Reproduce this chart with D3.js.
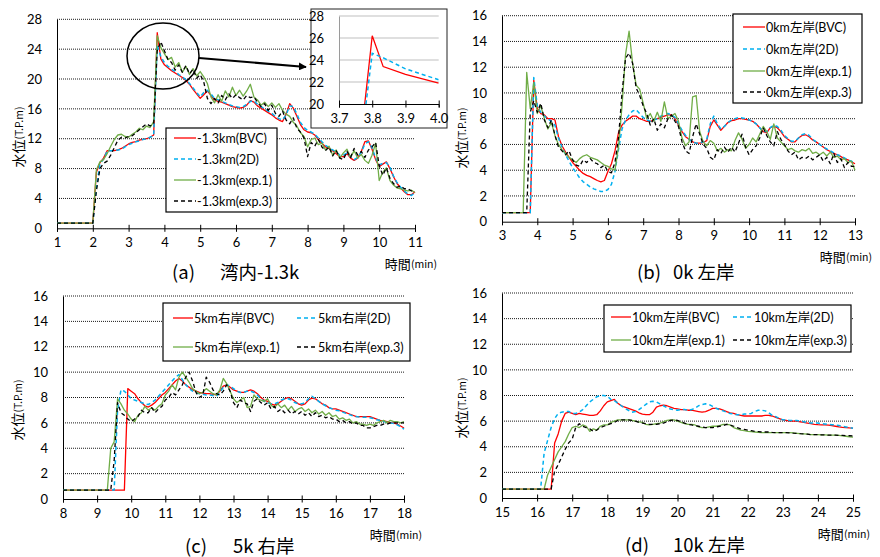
<!DOCTYPE html>
<html lang="ja">
<head>
<meta charset="UTF-8">
<script src="https://cdn.jsdelivr.net/npm/d3@7"></script>
<title>水位比較</title>
<style>
  body { margin: 0; background: #fff; }
  svg text { font-family: Lato, "Noto Sans CJK JP", sans-serif; fill: #000; }
  .jp { font-family: "Noto Sans CJK JP", sans-serif; }
</style>
</head>
<body>
<svg id="chart" width="880" height="557"></svg>
<script>
// ---- data: water level (T.P.m), sampled every 0.1 min ----
const timesA = d3.range(101).map(i => +(1 + i * 0.1).toFixed(1));
const timesB = d3.range(101).map(i => +(3 + i * 0.1).toFixed(1));
const timesC = d3.range(101).map(i => +(8 + i * 0.1).toFixed(1));
const timesD = d3.range(101).map(i => +(15 + i * 0.1).toFixed(1));

const namesA = ["-1.3km(BVC)", "-1.3km(2D)", "-1.3km(exp.1)", "-1.3km(exp.3)"];
const namesB = ["0km左岸(BVC)", "0km左岸(2D)", "0km左岸(exp.1)", "0km左岸(exp.3)"];
const namesC = ["5km右岸(BVC)", "5km右岸(2D)", "5km右岸(exp.1)", "5km右岸(exp.3)"];
const namesD = ["10km左岸(BVC)", "10km左岸(2D)", "10km左岸(exp.1)", "10km左岸(exp.3)"];

// (a) 湾内-1.3k
const bvcA = [0.7,0.7,0.7,0.7,0.7,0.7,0.7,0.7,0.7,0.7,0.7,
  7.5,8.8,9.4,10.4,10.4,10.4,10.5,10.7,11.0,11.3,11.5,11.6,11.8,11.9,12.0,12.2,12.5,
  26.2,22.7,21.9,21.5,21.1,20.8,20.5,20.2,19.8,19.3,18.6,18.0,17.4,17.9,18.4,17.8,17.2,17.0,
  16.9,16.7,16.5,16.3,16.2,16.1,16.2,16.5,17.1,16.9,16.4,16.1,15.8,15.5,15.2,14.8,14.5,14.3,
  15.3,16.7,16.1,15.0,13.9,13.2,12.9,12.8,12.5,11.9,11.4,10.9,10.7,10.4,10.0,9.6,9.6,10.0,
  9.4,9.1,9.4,10.3,11.6,11.7,10.6,9.2,8.3,8.6,8.9,8.0,6.9,6.0,5.4,4.9,4.5,4.5,4.9];
const d2A = [0.7,0.7,0.7,0.7,0.7,0.7,0.7,0.7,0.7,0.7,0.7,
  5.5,8.6,9.3,10.3,10.4,10.4,10.5,10.6,10.9,11.2,11.4,11.6,11.7,11.9,12.0,12.2,12.4,
  24.6,23.0,22.2,21.7,21.3,21.0,20.6,20.3,19.9,19.4,18.8,18.2,17.6,18.2,18.5,18.0,17.4,17.2,
  17.0,16.8,16.6,16.4,16.3,16.2,16.3,16.6,17.0,17.1,16.6,16.3,16.0,15.7,15.4,15.0,14.7,14.5,
  15.2,16.4,16.3,15.3,14.2,13.5,13.1,12.9,12.6,12.1,11.6,11.1,10.8,10.5,10.2,9.8,9.8,10.1,
  9.6,9.2,9.5,10.2,11.3,11.6,10.8,9.4,8.5,8.7,8.8,8.2,7.0,6.1,5.5,5.0,4.6,4.4,4.8];
const exp1A = [0.7,0.7,0.7,0.7,0.7,0.7,0.7,0.7,0.7,0.7,0.7,
  7.8,8.9,9.2,10.0,11.0,11.9,12.5,12.6,12.3,12.2,12.6,12.9,13.4,13.2,13.7,13.5,14.3,
  25.8,24.2,23.4,22.6,22.9,21.6,22.2,20.9,21.7,20.6,21.4,20.4,21.0,20.3,19.4,17.6,16.8,17.9,
  17.0,18.4,17.6,18.9,17.8,18.5,17.7,18.4,19.3,17.6,17.2,16.5,16.9,16.3,16.8,16.2,16.7,15.8,
  15.3,15.0,14.2,13.7,12.8,12.3,10.9,11.9,12.1,11.2,11.4,10.5,11.0,9.8,10.5,9.4,10.1,10.6,
  9.5,10.4,9.4,9.9,9.1,8.7,9.8,11.4,6.4,7.5,8.1,6.4,5.8,5.4,5.3,5.1,5.0,5.1,4.8];
const exp3A = [0.7,0.7,0.7,0.7,0.7,0.7,0.7,0.7,0.7,0.7,0.7,
  5.0,8.0,8.7,9.0,9.8,10.8,11.8,12.2,12.1,12.3,12.4,12.8,13.2,13.6,14.0,13.7,14.0,
  23.8,25.0,23.8,22.6,22.2,21.2,21.9,20.9,21.8,20.7,21.3,20.1,20.6,19.6,17.4,16.7,17.4,16.8,
  17.8,17.2,18.0,17.4,17.9,17.5,17.2,17.8,17.5,17.6,16.9,16.3,16.7,15.8,16.5,15.4,15.0,15.7,
  14.5,14.0,14.8,13.4,12.9,12.1,9.6,11.5,11.0,11.9,10.9,10.4,10.9,9.7,10.4,9.4,9.2,10.3,
  9.5,10.7,9.8,10.3,9.5,10.5,10.9,11.5,8.4,7.1,8.1,6.7,6.0,5.5,5.7,5.3,5.3,5.0,4.9];

// inset (3.7–4.0 min) of (a)
const insetTimes = [3.75, 3.8, 3.833, 3.9, 4.0];
const insetBvc = [12.5, 26.2, 23.4, 22.7, 21.9];
const insetD2 = [12.4, 24.6, 24.2, 23.2, 22.2];

// (b) 0k 左岸
const bvcB = [0.7,0.7,0.7,0.7,0.7,0.7,0.7,0.7,0.7,
  11.0,8.8,8.4,8.3,8.0,8.0,7.9,6.6,5.9,5.4,5.0,4.6,4.3,4.0,3.75,3.6,3.5,3.35,3.2,3.1,3.2,
  3.9,4.5,5.5,6.9,7.5,7.8,8.0,8.2,8.2,8.0,7.9,7.8,7.8,7.9,8.0,8.1,8.2,8.3,8.3,8.0,
  7.5,7.0,6.6,6.4,6.2,6.1,6.1,6.15,6.3,7.4,7.9,7.5,7.1,7.4,7.7,7.85,7.9,8.0,8.0,7.95,
  7.9,7.8,7.6,7.3,7.0,6.9,7.3,7.4,7.3,7.0,6.6,6.4,6.2,6.2,6.5,6.7,6.75,6.6,6.35,6.2,
  6.0,5.8,5.6,5.45,5.3,5.2,5.05,4.9,4.8,4.65,4.5];
const d2B = [0.7,0.7,0.7,0.7,0.7,0.7,0.7,0.7,0.7,
  11.2,9.0,8.5,8.2,8.0,7.8,7.5,6.5,5.8,5.2,4.7,4.2,3.8,3.4,3.1,2.9,2.7,2.55,2.45,2.35,2.35,
  2.5,2.9,3.9,5.6,7.2,7.9,8.3,8.6,8.7,8.4,8.1,7.9,7.8,7.9,8.0,8.2,8.3,8.4,8.3,8.1,
  7.6,7.1,6.7,6.4,6.2,6.1,6.1,6.2,6.4,7.6,8.2,7.6,7.2,7.4,7.7,7.9,8.0,8.1,8.05,8.0,
  7.9,7.8,7.6,7.3,7.0,7.0,7.3,7.5,7.4,7.1,6.7,6.45,6.25,6.25,6.5,6.75,6.85,6.7,6.4,6.2,
  6.0,5.8,5.65,5.5,5.35,5.2,5.1,4.95,4.8,4.7,4.5];
const exp1B = [0.7,0.7,0.7,0.7,0.7,0.7,0.7,
  11.6,8.8,10.8,8.4,9.0,8.0,7.2,7.7,6.7,6.0,5.6,5.3,5.0,4.8,4.6,4.9,5.1,5.2,5.0,4.9,4.8,
  4.6,4.4,4.3,4.1,4.0,5.8,9.0,13.0,14.8,12.3,10.6,10.3,9.2,8.0,8.4,7.8,8.5,7.8,9.3,8.0,
  8.2,8.4,7.8,6.5,5.9,6.2,9.7,9.8,7.0,6.2,5.9,6.3,6.1,5.5,5.7,5.4,5.6,5.5,6.3,6.9,
  6.4,5.7,6.0,6.5,6.2,6.8,7.4,7.0,6.4,7.6,6.5,6.2,5.9,5.6,5.7,5.5,5.4,5.6,5.5,5.7,
  5.3,5.4,5.2,5.4,5.1,5.4,5.0,5.1,4.8,4.9,4.6,4.7,4.0];
const exp3B = [0.7,0.7,0.7,0.7,0.7,0.7,0.7,0.7,
  8.5,9.4,8.5,9.2,7.9,7.3,7.9,6.7,5.8,5.5,5.2,5.5,4.8,4.4,4.3,4.8,4.6,4.9,4.6,4.5,
  4.2,4.4,3.9,3.8,4.6,6.5,10.0,12.7,13.1,12.3,10.4,9.8,9.0,8.4,7.5,8.0,7.1,7.6,7.3,8.0,
  8.3,7.8,7.4,6.2,5.5,5.3,6.6,7.6,6.8,6.0,5.7,5.0,4.8,5.6,5.3,5.8,5.4,5.8,5.4,6.1,
  6.8,5.8,5.2,5.6,5.9,6.5,7.3,6.7,6.2,5.9,7.0,6.4,6.0,5.5,5.2,5.4,4.8,5.0,4.9,5.1,
  4.8,5.0,5.2,4.7,5.0,4.5,5.3,4.6,4.9,4.2,4.6,4.3,4.3];

// (c) 5k 右岸
const bvcC = [0.7,0.7,0.7,0.7,0.7,0.7,0.7,0.7,0.7,0.7,0.7,0.7,0.7,0.7,0.7,0.7,0.7,0.7,0.7,
  8.7,8.5,8.3,7.9,7.6,7.35,7.25,7.4,7.6,7.9,8.2,8.4,8.7,9.0,9.3,9.5,9.3,9.0,8.8,8.6,8.5,
  8.4,8.35,8.3,8.3,8.25,8.2,8.5,8.9,9.0,8.8,8.6,8.5,8.4,8.4,8.5,8.6,8.5,8.3,8.0,7.8,
  7.7,7.5,7.4,7.5,7.7,7.9,8.0,7.9,7.7,7.5,7.4,7.5,7.8,7.95,7.9,7.7,7.5,7.4,7.2,7.1,
  7.1,7.0,6.9,6.8,6.7,6.6,6.5,6.5,6.5,6.5,6.5,6.4,6.3,6.2,6.15,6.1,6.0,6.0,5.9,5.75,5.6];
const d2C = [0.7,0.7,0.7,0.7,0.7,0.7,0.7,0.7,0.7,0.7,0.7,0.7,0.7,0.7,0.7,0.7,
  7.0,8.6,8.5,8.2,7.9,7.8,7.7,7.6,7.5,7.45,7.6,7.8,8.1,8.4,8.7,9.0,9.3,9.6,9.8,9.4,
  9.0,8.7,8.5,8.4,8.3,8.25,8.2,8.2,8.15,8.1,8.4,8.8,9.0,8.9,8.7,8.5,8.4,8.4,8.5,8.5,
  8.4,8.2,7.9,7.7,7.6,7.5,7.5,7.6,7.8,7.9,7.9,7.8,7.6,7.5,7.5,7.6,7.9,8.1,7.9,7.7,
  7.5,7.35,7.2,7.1,7.0,6.95,6.85,6.75,6.65,6.55,6.5,6.45,6.45,6.45,6.4,6.35,6.25,6.2,6.1,6.05,
  6.0,5.95,5.85,5.7,5.5];
const exp1C = [0.7,0.7,0.7,0.7,0.7,0.7,0.7,0.7,0.7,0.7,0.7,0.7,0.7,0.7,
  4.0,4.5,7.9,7.5,7.0,6.7,6.3,6.1,6.6,6.8,7.3,7.0,7.2,7.0,7.3,7.5,8.2,8.5,9.0,8.6,
  9.6,10.0,9.6,9.2,8.7,8.5,8.3,8.4,8.7,8.5,8.3,8.2,8.6,9.5,9.1,8.5,7.9,7.6,7.8,8.0,
  7.2,7.3,8.2,7.9,7.8,7.7,7.9,7.4,7.2,7.5,7.2,7.4,7.0,7.3,6.9,7.1,7.2,6.9,7.1,6.8,
  7.0,6.7,6.9,6.6,6.8,6.5,6.6,6.3,6.4,6.2,6.3,6.0,6.1,5.9,5.9,5.8,5.9,5.8,6.0,6.1,
  6.2,6.0,6.2,6.1,6.1,6.0,6.1];
const exp3C = [0.7,0.7,0.7,0.7,0.7,0.7,0.7,0.7,0.7,0.7,0.7,0.7,0.7,0.7,0.7,
  3.0,7.6,6.8,6.6,6.3,6.1,6.3,6.5,7.0,6.8,6.8,7.2,6.8,7.1,7.3,7.8,8.0,8.4,8.2,8.6,
  9.0,9.6,10.0,9.3,8.4,8.0,8.2,9.6,9.2,8.6,8.3,8.2,8.5,9.0,8.5,7.6,7.2,7.8,7.6,7.5,
  6.9,7.7,7.9,7.6,7.4,7.6,7.1,7.3,6.9,7.1,6.8,7.0,6.7,6.9,6.7,6.9,6.6,6.8,6.5,6.8,
  6.5,6.6,6.4,6.5,6.3,6.3,6.1,6.2,6.0,6.1,5.9,6.0,5.8,5.8,5.6,5.6,5.7,5.8,5.8,5.9,
  5.9,6.0,6.0,6.0,6.0,6.0];

// (d) 10k 左岸
const bvcD = [0.7,0.7,0.7,0.7,0.7,0.7,0.7,0.7,0.7,0.7,0.7,0.7,0.7,0.7,0.7,
  4.3,5.0,6.0,6.6,6.7,6.6,6.5,6.6,6.55,6.5,6.45,6.45,6.5,6.8,7.2,7.5,7.6,7.7,7.4,7.2,
  7.1,7.0,6.9,6.8,6.65,6.55,6.5,6.5,6.7,7.1,7.2,7.25,7.2,7.1,7.0,6.95,6.9,6.9,6.85,6.85,
  6.8,6.75,6.7,6.75,6.85,7.0,7.0,6.95,6.85,6.75,6.65,6.6,6.5,6.45,6.4,6.4,6.4,6.4,6.4,6.4,
  6.45,6.45,6.4,6.3,6.2,6.1,6.05,6.0,6.0,6.0,5.95,5.9,5.85,5.8,5.75,5.72,5.7,5.7,5.68,5.65,
  5.6,5.55,5.52,5.5,5.47,5.45];
const d2D = [0.7,0.7,0.7,0.7,0.7,0.7,0.7,0.7,0.7,0.7,0.7,0.7,
  3.5,4.5,5.5,6.2,6.6,6.7,6.75,6.75,6.6,6.6,6.7,6.9,7.2,7.5,7.7,7.9,8.0,8.0,7.95,7.7,
  7.6,7.4,7.2,7.0,6.85,6.7,6.75,6.9,7.1,7.3,7.5,7.55,7.5,7.35,7.2,7.05,6.95,6.9,6.85,6.9,
  6.9,6.85,6.9,7.0,7.2,7.3,7.35,7.3,7.15,7.0,6.9,6.8,6.7,6.6,6.55,6.5,6.5,6.55,6.55,6.6,
  6.75,6.85,6.85,6.8,6.65,6.45,6.35,6.2,6.1,6.08,6.05,6.05,6.05,6.0,5.95,5.9,5.85,5.85,5.85,5.8,
  5.78,5.75,5.72,5.7,5.65,5.6,5.55,5.5,5.45];
const exp1D = [0.7,0.7,0.7,0.7,0.7,0.7,0.7,0.7,0.7,0.7,0.7,0.7,0.7,
  1.8,2.4,3.0,3.6,4.0,4.4,5.0,5.5,5.6,5.5,5.7,5.6,5.2,5.4,5.3,5.6,5.7,5.7,5.9,6.0,
  6.1,6.1,6.1,6.1,6.05,6.0,5.95,5.9,5.75,5.7,5.75,5.8,5.85,5.95,6.05,6.1,6.1,6.0,5.9,5.8,
  5.75,5.75,5.7,5.55,5.5,5.5,5.55,5.6,5.6,5.65,5.75,5.75,5.7,5.5,5.4,5.3,5.25,5.2,5.18,5.15,
  5.12,5.1,5.1,5.1,5.1,5.1,5.1,5.1,5.1,5.1,5.08,5.05,5.02,5.0,4.98,4.95,4.95,4.95,4.93,4.92,
  4.9,4.9,4.9,4.88,4.85,4.82,4.78,4.75];
const exp3D = [0.7,0.7,0.7,0.7,0.7,0.7,0.7,0.7,0.7,0.7,0.7,0.7,0.7,0.7,0.7,
  2.1,2.6,3.2,3.8,4.3,4.6,5.5,5.8,5.6,5.5,5.4,5.2,5.3,5.5,5.6,5.7,5.8,5.9,6.05,6.1,
  6.1,6.1,6.05,6.0,5.9,5.85,5.8,5.75,5.75,5.75,5.8,5.85,5.95,6.05,6.1,6.05,5.95,5.85,5.75,5.7,
  5.65,5.6,5.55,5.5,5.5,5.5,5.55,5.6,5.65,5.75,5.7,5.6,5.5,5.4,5.35,5.3,5.25,5.2,5.18,5.15,
  5.15,5.15,5.12,5.1,5.1,5.1,5.1,5.08,5.06,5.05,5.02,5.0,4.98,4.95,4.95,4.95,4.93,4.92,4.9,4.9,
  4.9,4.89,4.88,4.87,4.86,4.85];

// ---- styles ----
const lineStyles = [
  { color: "#ff0000", dash: null, width: 1.3 },
  { color: "#00b0f0", dash: "4,3", width: 1.5 },
  { color: "#70ad47", dash: null, width: 1.3 },
  { color: "#000000", dash: "4,3", width: 1.3 }
];

const panels = [
  { times: timesA, series: [bvcA, d2A, exp1A, exp3A], names: namesA,
    left: 57, right: 415, top: 19.3, bottom: 228.3, xDom: [1, 11], yMax: 28, yStep: 4,
    ylab: [18, 137], xlab: [437, 263], title: ["(a)", "湾内-1.3k"], titleX: [172, 220], titleY: 271,
    legend: { x: 166, y: 128, w: 111, h: 84, rows: [138, 159, 180, 201], cols: [174], sw: 22, ncol: 1 } },
  { times: timesB, series: [bvcB, d2B, exp1B, exp3B], names: namesB,
    left: 502, right: 855, top: 15.7, bottom: 221.7, xDom: [3, 13], yMax: 16, yStep: 2,
    ylab: [461, 138], xlab: [872, 256], title: ["(b)", "0k 左岸"], titleX: [637, 673], titleY: 271,
    legend: { x: 733, y: 14, w: 129, h: 89, rows: [27, 49, 71, 92], cols: [743], sw: 22, ncol: 1 } },
  { times: timesC, series: [bvcC, d2C, exp1C, exp3C], names: namesC,
    left: 63, right: 404, top: 296, bottom: 499, xDom: [8, 18], yMax: 16, yStep: 2,
    ylab: [17, 410], xlab: [422, 534], title: ["(c)", "5k 右岸"], titleX: [185, 233], titleY: 545,
    legend: { x: 163, y: 303, w: 247, h: 58, rows: [318, 347], cols: [173, 297], sw: 20, ncol: 2 } },
  { times: timesD, series: [bvcD, d2D, exp1D, exp3D], names: namesD,
    left: 502, right: 853, top: 293, bottom: 498, xDom: [15, 25], yMax: 16, yStep: 2,
    ylab: [461, 408], xlab: [870, 533], title: ["(d)", "10k 左岸"], titleX: [625, 673], titleY: 544,
    legend: { x: 604, y: 305, w: 247, h: 47, rows: [317, 340], cols: [611, 733], sw: 20, ncol: 2 } }
];

const svg = d3.select("#chart");

function drawLegendLine(g, x1, x2, y, st) {
  g.append("line").attr("x1", x1).attr("x2", x2).attr("y1", y).attr("y2", y)
    .attr("stroke", st.color).attr("stroke-width", st.width)
    .attr("stroke-dasharray", st.dash);
}

panels.forEach((p, pi) => {
  const g = svg.append("g");
  const x = d3.scaleLinear().domain(p.xDom).range([p.left, p.right]);
  const y = d3.scaleLinear().domain([0, p.yMax]).range([p.bottom, p.top]);
  const yTicks = d3.range(0, p.yMax + 0.001, p.yStep);

  // dotted gridlines
  g.append("g").selectAll("line").data(yTicks.slice(1)).join("line")
    .attr("x1", p.left).attr("x2", p.right)
    .attr("y1", d => y(d)).attr("y2", d => y(d))
    .attr("stroke", "#1a1a1a").attr("stroke-width", 1).attr("stroke-dasharray", "1,1");

  // y axis
  const ya = g.append("g").attr("transform", `translate(${p.left},0)`)
    .call(d3.axisLeft(y).tickValues(yTicks).tickSize(0).tickPadding(15));
  ya.select(".domain").attr("stroke", "#000");
  ya.selectAll("text").attr("font-size", 13).attr("fill", "#000");

  // x axis with crossing ticks
  const xa = g.append("g").attr("transform", `translate(0,${p.bottom})`)
    .call(d3.axisBottom(x).ticks(10).tickFormat(d3.format("d")).tickSize(3.5).tickPadding(6));
  xa.select(".domain").attr("stroke", "#000");
  xa.selectAll(".tick line").attr("y1", -3.5).attr("y2", 3.5).attr("stroke", "#000");
  xa.selectAll("text").attr("font-size", 13).attr("fill", "#000");

  // series
  const line = d3.line().x(d => x(d[0])).y(d => y(d[1]));
  p.series.forEach((vals, si) => {
    const st = lineStyles[si];
    const pts = vals.map((v, i) => [p.times[i], v]);
    g.append("path").datum(pts)
      .attr("fill", "none").attr("stroke", st.color)
      .attr("stroke-width", st.width).attr("stroke-dasharray", st.dash)
      .attr("stroke-linejoin", "round").attr("d", line);
  });

  // axis titles
  const yl = g.append("text").attr("class", "jp")
    .attr("transform", `translate(${p.ylab[0]},${p.ylab[1]}) rotate(-90)`)
    .attr("text-anchor", "middle").attr("dominant-baseline", "central");
  yl.append("tspan").attr("font-size", 14).text("水位");
  yl.append("tspan").attr("font-size", 10.5).text("(T.P.m)");

  const xl = g.append("text").attr("class", "jp")
    .attr("x", p.xlab[0]).attr("y", p.xlab[1])
    .attr("text-anchor", "end").attr("dominant-baseline", "central");
  xl.append("tspan").attr("font-size", 13).text("時間");
  xl.append("tspan").attr("font-size", 10.5).text("(min)");

  // panel title
  p.title.forEach((t, i) => {
    g.append("text").attr("class", "jp")
      .attr("x", p.titleX[i]).attr("y", p.titleY)
      .attr("dominant-baseline", "central").attr("font-size", 18.5).text(t);
  });

  // legend
  const L = p.legend;
  const lg = g.append("g");
  lg.append("rect").attr("x", L.x).attr("y", L.y).attr("width", L.w).attr("height", L.h)
    .attr("fill", "#fff").attr("stroke", "#000").attr("stroke-width", 1.2);
  p.names.forEach((name, i) => {
    const row = L.ncol === 1 ? i : Math.floor(i / 2);
    const col = L.ncol === 1 ? 0 : i % 2;
    const ly = L.rows[row], lx = L.cols[col];
    drawLegendLine(lg, lx, lx + L.sw, ly, lineStyles[i]);
    lg.append("text").attr("x", lx + L.sw + 1).attr("y", ly)
      .attr("dominant-baseline", "central").attr("font-size", 12.5).text(name);
  });
});

// ---- circle, arrow and inset on panel (a) ----
const defs = svg.append("defs");
defs.append("marker").attr("id", "arrowhead").attr("viewBox", "0 0 10 10")
  .attr("refX", 9).attr("refY", 5).attr("markerWidth", 4).attr("markerHeight", 4)
  .attr("orient", "auto")
  .append("path").attr("d", "M0,0 L10,5 L0,10 z").attr("fill", "#000");

svg.append("ellipse").attr("cx", 163).attr("cy", 56).attr("rx", 36).attr("ry", 33)
  .attr("fill", "none").attr("stroke", "#000").attr("stroke-width", 1.5);
svg.append("line").attr("x1", 199).attr("y1", 58).attr("x2", 306).attr("y2", 67)
  .attr("stroke", "#000").attr("stroke-width", 2).attr("marker-end", "url(#arrowhead)");

const inset = svg.append("g");
inset.append("rect").attr("x", 311).attr("y", 9).attr("width", 136).attr("height", 119)
  .attr("fill", "#fff").attr("stroke", "#222").attr("stroke-width", 1);
const ix = d3.scaleLinear().domain([3.7, 4.0]).range([339, 438.7]);
const iy = d3.scaleLinear().domain([20, 28]).range([104, 16]);
const iyTicks = [20, 22, 24, 26, 28];
inset.append("g").selectAll("line").data(iyTicks.slice(1)).join("line")
  .attr("x1", ix(3.7)).attr("x2", ix(4.0)).attr("y1", d => iy(d)).attr("y2", d => iy(d))
  .attr("stroke", "#bfbfbf").attr("stroke-width", 1);
const iya = inset.append("g").attr("transform", `translate(${ix(3.7)},0)`)
  .call(d3.axisLeft(iy).tickValues(iyTicks).tickSize(0).tickPadding(15));
iya.select(".domain").attr("stroke", "#9a9a9a");
iya.selectAll("text").attr("font-size", 13).attr("fill", "#000");
const ixa = inset.append("g").attr("transform", `translate(0,${iy(20)})`)
  .call(d3.axisBottom(ix).tickValues([3.7, 3.8, 3.9, 4.0]).tickFormat(d3.format(".1f")).tickSize(3.5).tickPadding(6));
ixa.select(".domain").attr("stroke", "#000");
ixa.selectAll(".tick line").attr("y1", -3.5).attr("y2", 3.5).attr("stroke", "#000");
ixa.selectAll("text").attr("font-size", 13).attr("fill", "#000");

defs.append("clipPath").attr("id", "insetClip").append("rect")
  .attr("x", ix(3.7)).attr("y", iy(28)).attr("width", ix(4.0) - ix(3.7)).attr("height", iy(20) - iy(28));
const iline = d3.line().x(d => ix(d[0])).y(d => iy(d[1]));
[insetBvc, insetD2].forEach((vals, si) => {
  const st = lineStyles[si];
  inset.append("path").datum(vals.map((v, i) => [insetTimes[i], v]))
    .attr("clip-path", "url(#insetClip)")
    .attr("fill", "none").attr("stroke", st.color).attr("stroke-width", st.width)
    .attr("stroke-dasharray", st.dash).attr("d", iline);
});
</script>
</body>
</html>
